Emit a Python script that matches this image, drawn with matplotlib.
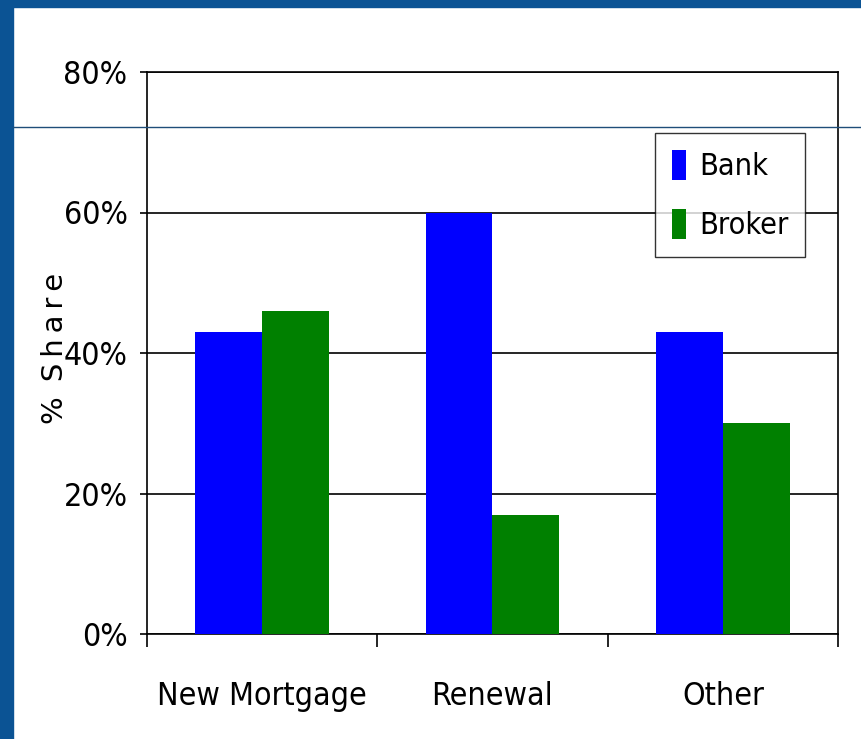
import matplotlib.pyplot as plt
from matplotlib.patches import Rectangle
from matplotlib.lines import Line2D
from matplotlib.ticker import FixedLocator, PercentFormatter

categories = ['New Mortgage', 'Renewal', 'Other']
bank = [43, 60, 43]
broker = [46, 17, 30]
yticks = [0, 20, 40, 60, 80]

plt.rcParams['font.family'] = ['DejaVu Sans']
plt.rcParams['font.stretch'] = 'condensed'

fig = plt.figure(figsize=(8.61, 7.39), dpi=100)
fig.patch.set_facecolor('white')

# slide frame
fig.patches.append(Rectangle((0, 0), 13 / 861, 1, transform=fig.transFigure,
                             color='#0b5394', zorder=0))
fig.patches.append(Rectangle((0, 1 - 7 / 739), 1, 7 / 739, transform=fig.transFigure,
                             color='#0b5394', zorder=0))

ax = fig.add_axes([147 / 861, 105 / 739, 691 / 861, 562 / 739])

x = list(range(len(categories)))
w = 0.29
ax.bar([i - w / 2 for i in x], bank, width=w, color='#0000ff', label='Bank', zorder=3)
ax.bar([i + w / 2 for i in x], broker, width=w, color='#008000', label='Broker', zorder=3)

ax.set_xlim(-0.5, len(categories) - 0.5)
ax.set_ylim(0, 80)
ax.set_yticks(yticks)
ax.yaxis.set_major_formatter(PercentFormatter(decimals=0))
ax.yaxis.grid(True, color='black', linewidth=1.2, zorder=0)

ax.xaxis.set_major_locator(FixedLocator([i - 0.5 for i in range(len(categories) + 1)]))
ax.xaxis.set_minor_locator(FixedLocator(x))
ax.set_xticklabels([], minor=False)
ax.set_xticklabels(categories, minor=True)
ax.tick_params(axis='x', which='major', length=9, width=1.2, direction='out')
ax.tick_params(axis='x', which='minor', length=0, pad=34, labelsize=23)
ax.tick_params(axis='y', length=5, width=1.2, pad=9, labelsize=23)

for s in ax.spines.values():
    s.set_linewidth(1.2)
    s.set_color('black')

fig.text(55 / 861, 1 - 348 / 739, '%\u2009 S\u2009h\u2009a\u2009r\u2009e', rotation=90,
         ha='center', va='center', fontstretch='normal', fontsize=21)

ax.legend(loc='upper left', bbox_to_anchor=(655 / 861, 1 - 133 / 739),
          bbox_transform=fig.transFigure, fontsize=22, frameon=True, fancybox=False,
          edgecolor='black', handlelength=0.45, handleheight=1.15, handletextpad=0.45,
          labelspacing=0.9, borderpad=0.55, borderaxespad=0)

fig.lines.append(Line2D([13 / 861, 1], [1 - 127 / 739] * 2, transform=fig.transFigure,
                        color='#1f4e79', linewidth=1, zorder=10))

fig.savefig('out.png', dpi=100)
